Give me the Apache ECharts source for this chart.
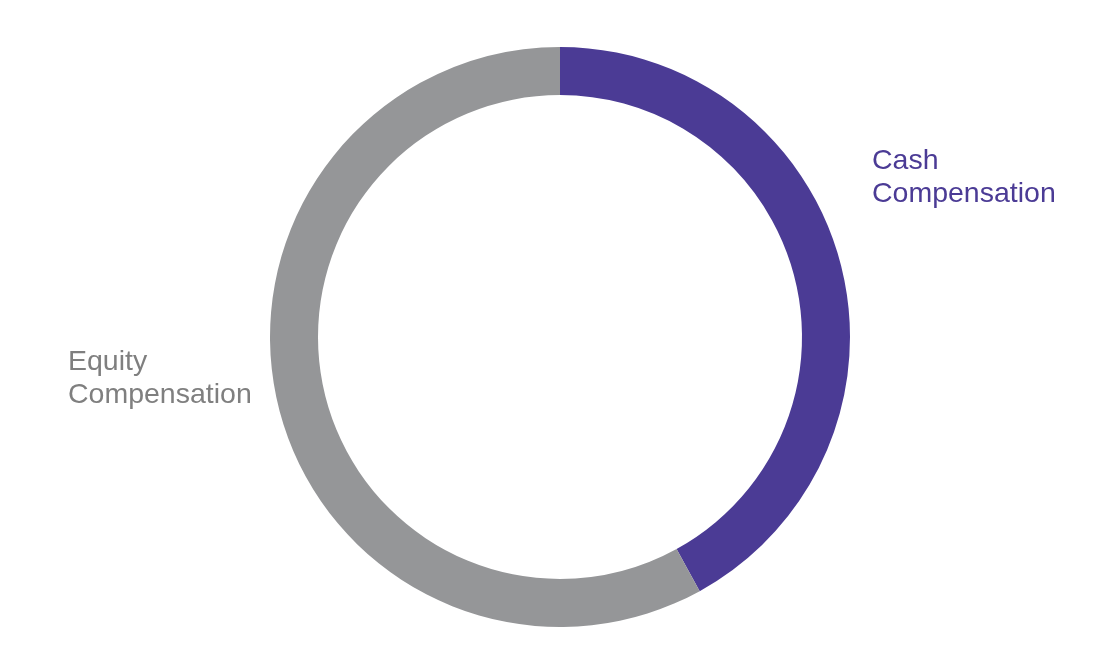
<!DOCTYPE html>
<html><head><meta charset="utf-8">
<script src="https://cdn.jsdelivr.net/npm/echarts@6/dist/echarts.min.js"></script>
<style>html,body{margin:0;padding:0;background:#fff}#c{width:1119px;height:664px}</style>
</head><body><div id="c"></div>
<script>
const categories = ['Cash\nCompensation', 'Equity\nCompensation'];
const values = [42, 58];
const colors = ['#4B3B95', '#959698'];
const labelColors = ['#4B3B95', '#7F7F7F'];
const labelPos = [[872, 145], [68, 346]];

const chart = echarts.init(document.getElementById('c'), null, {renderer: 'canvas'});
chart.setOption({
  animation: false,
  backgroundColor: '#ffffff',
  series: [{
    type: 'pie',
    center: [560, 337],
    radius: [242, 290],
    startAngle: 90,
    clockwise: true,
    silent: true,
    labelLine: {show: false},
    data: categories.map((c, i) => ({
      name: c, value: values[i],
      itemStyle: {color: colors[i]},
      label: {color: labelColors[i]}
    })),
    label: {
      show: true,
      formatter: '{b}',
      fontFamily: "Arial, 'Liberation Sans', sans-serif",
      fontSize: 28.5,
      lineHeight: 33,
      align: 'left'
    },
    labelLayout: function (p) {
      return {x: labelPos[p.dataIndex][0], y: labelPos[p.dataIndex][1], align: 'left', verticalAlign: 'top'};
    }
  }]
});
</script></body></html>
